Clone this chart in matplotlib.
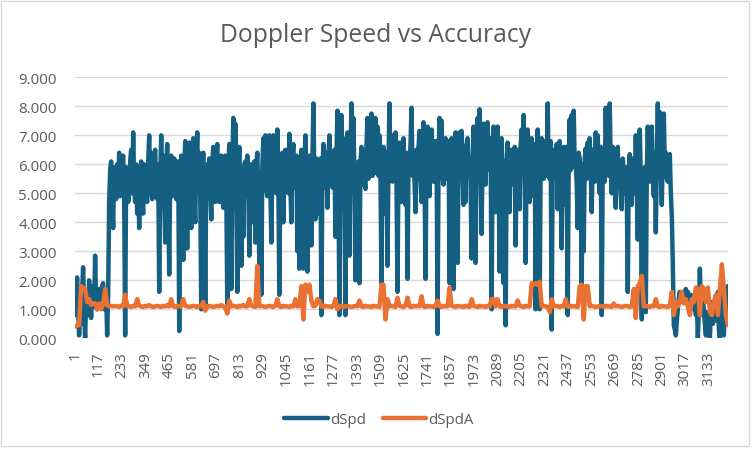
import numpy as np
import matplotlib
matplotlib.use("Agg")
import matplotlib.pyplot as plt
from matplotlib.patches import Rectangle

plt.rcParams['font.family'] = ['Open Sans', 'DejaVu Sans']

# dSpd, roughly two values per pixel column pair
dspd = [
    0.8, 1.5, 2.1, 1.0, 0.1, 0.9, 0.5, 1.6, 2.45, 0.9, 0.0, 1.3, 1.6, 0.8, 2.0, 1.2, 0.7, 1.5, 1.8, 1.1,
    2.85, 1.2, 1.0, 1.6, 1.7, 1.3, 1.5, 1.8, 1.9, 1.0, 1.2, 1.6, 0.1, 1.5, 4.7, 5.8, 6.1, 4.9, 3.8, 5.9,
    5.5, 4.8, 6.0, 5.0, 6.4, 4.9, 5.2, 6.0, 6.3, 4.8, 0.1, 5.9, 5.8, 4.7, 5.0, 6.1, 6.5, 5.0, 7.1, 5.2,
    4.7, 6.0, 4.3, 5.8, 3.8, 5.6, 6.1, 4.8, 4.3, 6.0, 5.9, 4.9, 4.7, 6.1, 7.0, 5.0, 6.4, 4.8, 5.2, 6.2,
    6.5, 5.0, 4.8, 6.0, 1.6, 5.5, 7.0, 5.0, 6.3, 4.9, 3.3, 5.9, 6.7, 5.1, 2.2, 5.8, 6.3, 4.9, 5.2, 6.2,
    6.0, 4.8, 5.5, 6.1, 0.25, 5.4, 6.3, 4.9, 2.7, 5.8, 6.8, 5.0, 3.1, 5.9, 6.75, 5.1, 3.8, 6.0, 6.9, 5.0,
    4.0, 6.1, 7.1, 5.1, 6.4, 4.9, 1.0, 5.6, 6.4, 5.0, 1.1, 5.5, 6.0, 4.9, 6.2, 5.1, 4.1, 6.0, 6.6, 5.0,
    4.7, 6.2, 6.7, 5.0, 4.7, 6.1, 6.3, 4.9, 4.5, 6.0, 6.3, 5.1, 1.2, 5.7, 6.7, 5.0, 1.7, 5.8, 7.6, 5.3,
    7.4, 5.0, 1.6, 5.6, 6.6, 5.0, 2.5, 5.8, 3.5, 6.0, 6.1, 4.9, 6.3, 5.1, 2.85, 5.9, 6.0, 4.8, 4.0, 6.1,
    3.3, 6.0, 6.4, 5.0, 2.5, 5.7, 1.5, 5.9, 6.9, 5.1, 7.0, 5.2, 4.9, 6.3, 7.0, 5.3, 3.3, 6.0, 7.0, 5.2,
    5.8, 5.0, 7.2, 5.3, 1.5, 5.8, 5.8, 6.4, 4.0, 6.2, 6.5, 5.2, 6.0, 5.0, 7.05, 5.3, 4.0, 6.3, 6.7, 5.2,
    5.8, 6.3, 3.0, 5.9, 2.4, 6.0, 6.5, 5.1, 2.4, 5.8, 7.0, 5.2, 2.3, 5.9, 6.3, 5.2, 3.2, 6.1, 8.1, 5.4,
    4.1, 6.2, 5.8, 5.1, 4.3, 6.2, 0.8, 5.8, 6.7, 5.2, 5.3, 6.4, 4.5, 6.2, 7.0, 5.3, 6.4, 5.2, 5.8, 6.5,
    3.5, 6.2, 7.85, 5.4, 0.8, 5.9, 7.7, 5.5, 6.9, 5.3, 0.8, 5.8, 7.1, 5.4, 2.85, 6.2, 8.1, 5.5, 7.6, 5.4,
    2.0, 5.9, 3.2, 6.1, 1.9, 6.0, 6.6, 5.3, 6.5, 5.4, 5.15, 6.6, 7.6, 5.5, 5.8, 6.7, 7.75, 5.6, 5.7, 6.8,
    7.6, 5.7, 7.3, 5.6, 7.0, 5.5, 1.9, 6.0, 6.6, 5.4, 4.3, 6.4, 2.5, 6.1, 8.1, 5.6, 7.0, 5.4, 5.5, 6.6,
    7.1, 5.4, 1.6, 6.0, 6.75, 5.3, 4.7, 6.5, 6.9, 5.4, 4.6, 6.4, 2.05, 6.2, 5.8, 6.7, 7.95, 5.6, 6.3, 5.4,
    4.35, 6.5, 5.5, 6.6, 7.15, 5.5, 4.7, 6.6, 7.45, 5.6, 2.05, 6.2, 7.3, 5.6, 4.9, 6.7, 7.2, 5.6, 5.4, 6.8,
    5.8, 6.8, 0.15, 6.0, 7.6, 5.7, 7.5, 5.6, 5.3, 6.7, 6.9, 5.5, 5.6, 6.8, 1.9, 6.2, 6.9, 5.5, 1.7, 6.1,
    7.1, 5.6, 2.6, 6.3, 7.1, 5.6, 7.15, 5.7, 4.6, 6.6, 4.7, 6.7, 6.9, 5.6, 6.2, 5.5, 2.75, 6.2, 7.3, 5.7,
    2.6, 6.3, 7.6, 5.8, 7.9, 5.9, 3.6, 6.5, 7.4, 5.8, 5.3, 6.8, 7.45, 5.9, 5.8, 6.9, 1.0, 6.2, 7.3, 5.8,
    4.35, 6.6, 7.3, 5.7, 2.3, 6.3, 6.9, 5.6, 1.9, 6.1, 0.45, 6.0, 6.75, 5.5, 4.35, 6.5, 6.2, 5.4, 5.3, 6.6,
    3.2, 6.2, 6.5, 5.4, 4.45, 6.6, 7.2, 5.7, 7.7, 5.8, 2.6, 6.3, 7.2, 5.7, 4.7, 6.6, 6.9, 5.6, 4.9, 6.7,
    1.0, 6.1, 7.2, 5.7, 1.0, 6.1, 6.9, 5.6, 5.5, 6.8, 6.5, 5.6, 8.1, 5.8, 5.5, 6.8, 0.3, 6.0, 6.5, 5.5,
    5.5, 6.7, 4.45, 6.5, 6.8, 5.5, 3.1, 6.3, 6.6, 5.4, 4.6, 6.6, 0.8, 6.1, 7.55, 5.8, 7.7, 5.9, 7.85, 6.0,
    6.1, 5.3, 3.8, 6.4, 6.2, 5.4, 1.9, 6.0, 3.0, 6.2, 6.55, 5.5, 6.75, 5.6, 6.9, 5.7, 4.35, 6.5, 6.4, 5.4,
    7.1, 5.6, 7.0, 5.5, 5.0, 6.6, 0.8, 6.0, 6.4, 5.4, 7.95, 5.8, 6.9, 5.6, 8.1, 5.9, 5.0, 6.6, 6.4, 5.3,
    4.5, 6.3, 6.6, 5.2, 5.95, 5.0, 4.45, 6.2, 5.8, 5.0, 5.9, 5.1, 1.6, 5.7, 6.35, 5.2, 4.6, 6.2, 5.95, 5.0,
    7.0, 5.3, 3.4, 6.1, 7.2, 5.4, 0.65, 5.6, 2.15, 5.9, 0.9, 5.7, 7.3, 5.6, 5.4, 6.5, 7.3, 5.6, 4.9, 6.4,
    3.65, 6.2, 8.1, 5.8, 7.8, 5.7, 4.6, 6.5, 7.75, 5.8, 6.4, 5.5, 5.4, 6.3, 6.35, 5.0, 4.2, 2.5, 0.45, 0.3,
    0.1, 0.6, 1.0, 1.4, 1.6, 1.3, 1.25, 1.5, 1.6, 1.4, 1.7, 1.5, 1.6, 1.4, 1.25, 1.5, 1.3, 1.1, 1.0, 1.3,
    0.8, 1.2, 0.0, 1.0, 2.4, 1.2, 0.8, 1.3, 1.0, 0.5, 0.1, 0.9, 0.5, 0.3, 0.0, 0.9, 1.25, 0.5, 0.8, 1.1,
    1.25, 0.6, 1.6, 0.3, 0.0, 1.1, 1.6, 0.4, 0.1, 1.2, 1.7, 0.9, 1.8,
]

dspda = [
    0.4, 0.45, 0.45, 1.8, 1.75, 1.7, 1.25, 1.35, 1.15, 1.2,
    1.2, 1.0, 1.2, 1.0, 1.2, 1.7, 1.15, 1.1, 1.12, 1.1,
    1.12, 1.1, 1.08, 1.12, 1.1, 1.5, 1.12, 1.1, 1.08, 1.12,
    1.1, 1.35, 1.12, 1.1, 1.08, 1.12, 1.1, 1.15, 1.1, 1.08,
    1.1, 1.12, 1.1, 1.08, 1.12, 1.1, 1.15, 1.1, 1.35, 1.1,
    1.08, 1.12, 1.1, 1.1, 1.35, 1.12, 1.1, 1.08, 1.1, 1.12,
    1.1, 1.08, 1.12, 1.1, 1.25, 0.95, 1.1, 1.12, 1.1, 1.08,
    1.1, 1.12, 1.1, 1.15, 1.1, 1.08, 0.85, 1.3, 1.1, 1.12,
    1.1, 1.08, 1.12, 1.1, 1.15, 1.1, 1.1, 1.35, 1.12, 1.1,
    1.08, 2.5, 1.1, 1.12, 1.1, 1.08, 1.1, 1.12, 1.1, 1.08,
    1.12, 1.35, 1.1, 1.08, 1.12, 1.1, 1.1, 1.08, 1.12, 1.1,
    1.35, 1.1, 1.12, 1.8, 0.65, 1.85, 1.6, 1.85, 1.3, 1.1,
    1.12, 1.35, 1.3, 1.1, 1.08, 1.12, 1.1, 1.1, 1.08, 1.12,
    1.35, 1.0, 1.1, 1.12, 1.08, 1.1, 1.12, 1.1, 1.08, 1.1,
    1.12, 1.1, 1.3, 1.1, 1.08, 1.12, 1.1, 1.1, 1.08, 1.12,
    1.1, 1.1, 1.08, 1.85, 1.85, 0.65, 1.35, 1.1, 1.12, 1.1,
    1.08, 1.4, 1.12, 1.1, 1.08, 1.12, 1.4, 1.1, 1.08, 1.12,
    1.1, 1.12, 1.1, 1.45, 1.1, 1.08, 1.12, 1.1, 1.1, 1.08,
    1.12, 1.3, 1.1, 1.08, 1.12, 1.1, 1.1, 1.75, 1.12, 1.1,
    1.08, 1.12, 1.1, 1.1, 1.08, 1.12, 1.1, 1.08, 1.35, 1.12,
    1.1, 1.08, 1.12, 1.1, 1.1, 1.08, 1.12, 1.1, 1.35, 1.35,
    1.1, 1.35, 1.1, 1.08, 1.12, 1.1, 1.1, 1.08, 1.12, 1.1,
    1.1, 1.3, 1.12, 1.1, 1.08, 1.12, 1.1, 1.1, 1.9, 1.85,
    1.9, 1.85, 1.95, 1.1, 1.12, 1.1, 1.08, 0.9, 1.35, 1.1,
    1.12, 1.1, 1.08, 1.12, 1.1, 1.35, 1.1, 1.08, 1.12, 1.1,
    1.1, 1.08, 1.8, 1.85, 0.65, 1.8, 1.8, 1.1, 1.12, 1.1,
    1.08, 1.1, 1.12, 1.1, 1.08, 1.12, 1.1, 1.1, 1.08, 1.2,
    1.1, 1.12, 1.1, 1.08, 1.1, 1.12, 1.1, 1.08, 1.12, 1.7,
    0.7, 1.8, 1.9, 2.15, 1.1, 1.12, 1.1, 1.08, 1.12, 1.1,
    1.35, 1.1, 1.08, 1.12, 1.1, 1.1, 1.08, 1.12, 1.6, 0.8,
    1.25, 1.1, 1.3, 1.6, 1.2, 1.35, 1.1, 0.8, 1.35, 1.25,
    1.75, 1.7, 0.8, 1.8, 1.7, 1.25, 1.75, 0.9, 0.8, 1.25,
    1.5, 0.8, 1.7, 2.55, 1.7, 0.8, 0.45,
]

n_records = 3228
tick_labels = [str(v) for v in range(1, 3134, 116)]

x_spd = np.linspace(1, n_records, len(dspd))
x_acc = np.linspace(1, n_records, len(dspda))

fig = plt.figure(figsize=(7.52, 4.52), dpi=100)
ax = fig.add_axes([75 / 752, 1 - 339.3 / 452, 653 / 752, (339.3 - 78.3) / 452])

grey = '#595959'
ax.plot(x_spd, dspd, color='#156082', lw=3.2, solid_joinstyle='round',
        solid_capstyle='round', label='dSpd')
ax.plot(x_acc, dspda, color='#E97132', lw=3.2, solid_joinstyle='round',
        solid_capstyle='round', label='dSpdA')

ax.set_ylim(0, 9)
ax.set_xlim(0.5, n_records + 0.5)
ax.set_yticks(np.arange(0, 10, 1))
ax.set_yticklabels([f'{v:.3f}' for v in range(10)])
ax.set_xticks([int(t) for t in tick_labels])
ax.set_xticklabels(tick_labels, rotation=90)
ax.tick_params(axis='both', length=0, labelsize=10.8, colors=grey)
ax.tick_params(axis='y', pad=13)
ax.tick_params(axis='x', pad=9)
ax.grid(axis='y', color='#d9d9d9', lw=1)
ax.set_axisbelow(True)
for s in ax.spines.values():
    s.set_visible(False)

fig.text(0.5, 1 - 35 / 452, 'Doppler Speed vs Accuracy', ha='center', va='center',
         fontsize=17.8, color=grey)

fig.legend(loc='center', bbox_to_anchor=(0.504, 1 - 421 / 452), ncol=2, frameon=False,
           fontsize=10.8, handlelength=2.9, handletextpad=0.15, columnspacing=1.1,
           labelcolor=grey)

fig.patches.append(Rectangle((1.5 / 752, 5.3 / 452), 747.5 / 752, 445.2 / 452,
                             transform=fig.transFigure, fill=False,
                             edgecolor='#d9d9d9', lw=1))

fig.savefig('out.png', dpi=100)
